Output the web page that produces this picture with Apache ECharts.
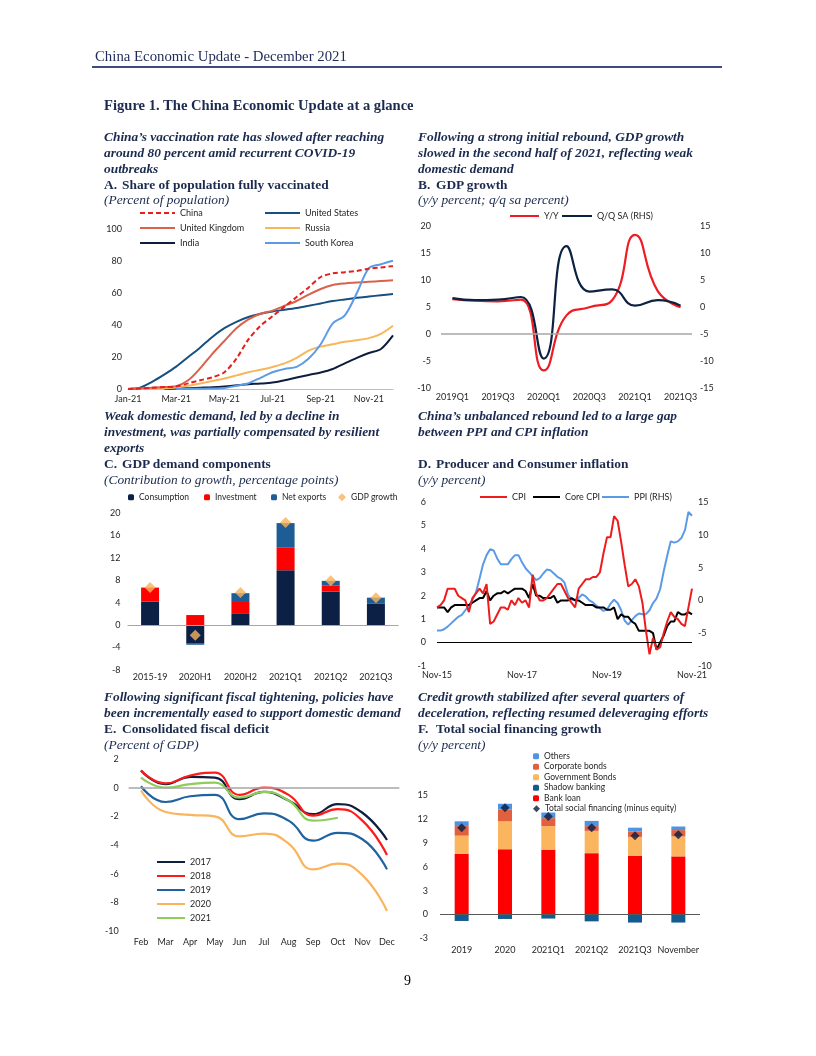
<!DOCTYPE html>
<html><head><meta charset="utf-8">
<script src="https://cdn.jsdelivr.net/npm/echarts@6/dist/echarts.min.js"></script>
<style>
body{margin:0;background:#fff;}
#page{position:relative;width:816px;height:1056px;overflow:hidden;background:#fff;}
#chart{position:absolute;left:0;top:0;width:816px;height:1056px;}
.t{position:absolute;white-space:nowrap;font-family:"Liberation Serif","Times New Roman",serif;color:#1B2A4E;line-height:16px;height:16px;}
.bi{font-weight:bold;font-style:italic;font-size:13.4px;}
.b{font-weight:bold;font-size:13.4px;}
.i{font-style:italic;font-size:13.4px;}
.hdr{font-size:14.8px;color:#1F2B57;}
.ttl{font-weight:bold;font-size:14.6px;}
.pg{font-size:14px;color:#000;}
#rule{position:absolute;left:92px;top:66px;width:630px;height:1.5px;background:#3D4C7C;}
</style></head>
<body>
<div id="page"><div id="chart"></div><div id="rule"></div></div>
<script>
// ---------- Chart A: vaccination (semi-monthly points, 2021) ----------
const vaxDates = ['Jan 1','Jan 15','Feb 1','Feb 15','Mar 1','Mar 15','Apr 1','Apr 15','May 1','May 15','Jun 1','Jun 15','Jul 1','Jul 15','Aug 1','Aug 15','Sep 1','Sep 15','Oct 1','Oct 15','Nov 1','Nov 15','Dec 1'];
const vaxChina  = [0,0.3,0.8,1.2,1.6,3.5,5.5,7.3,10.5,19,31,39.5,45.5,51.5,57.5,63.5,70,72.3,73,73.8,75.2,76,76.8];
const vaxUS     = [0,0.8,4.5,9,14,20,26,32.5,38,42,45,47,48.5,49.5,50.6,52,53.5,55,56,57,57.8,58.6,59.4];
const vaxUK     = [0,0.5,0.8,1.2,1.8,5.5,13,22,30,38,43.5,47,49,52,55,59,62.5,65,66,66.5,67,67.5,68];
const vaxRussia = [0,0.1,0.3,0.5,0.9,2,3.5,5,6.6,8.5,10.5,12,13.8,16,19.5,24,26.5,28,29.5,30.5,31.8,34.5,39.5];
const vaxIndia  = [null,null,null,0.1,0.3,0.5,0.8,1.1,1.6,2.3,3,3.4,4,5.5,7.2,8.8,10.3,12.5,16,19.5,22.5,25,33.5];
const vaxKorea  = [null,null,null,null,0,0.1,0.2,0.3,0.6,2,3.6,7,10.5,12.5,13.8,19,28,41,46,60,75.5,78,80.2];

// ---------- Chart B: GDP growth ----------
const gdpQuarters = ['2019Q1','2019Q2','2019Q3','2019Q4','2020Q1','2020Q2','2020Q3','2020Q4','2021Q1','2021Q2','2021Q3'];
const gdpYoY = [6.4,6.1,6.0,6.3,-6.8,3.4,4.9,6.2,18.3,7.9,4.9];
const gdpQoQ = [1.6,1.2,1.3,1.8,-9.6,11.2,2.8,3.2,0.2,1.2,0.2];

// ---------- Chart C: GDP demand components ----------
const compCats = ['2015-19','2020H1','2020H2','2021Q1','2021Q2','2021Q3'];
const compConsumption = [4.2,-3.2,2.0,9.8,6.0,3.8];
const compInvestment  = [2.5,1.8,2.3,4.0,1.1,0.0];
const compNetExports  = [0.0,-0.3,1.4,4.4,0.8,1.1];
const compGDP         = [6.7,-1.8,5.8,18.3,7.9,4.9];

// ---------- Chart D: inflation, Nov-15 .. Nov-21 ----------
const monNames = ['Jan','Feb','Mar','Apr','May','Jun','Jul','Aug','Sep','Oct','Nov','Dec'];
const inflMonths = [];
for (let i = 0; i < 73; i++) { const k = 10 + i; inflMonths.push(monNames[k % 12] + '-' + (15 + Math.floor(k / 12))); }
const cpi = [1.5,1.6,
 1.8,2.3,2.3,2.3,2.0,1.9,1.8,1.3,1.9,2.1,2.3,2.1,
 2.5,0.8,0.9,1.2,1.5,1.5,1.4,1.8,1.6,1.9,1.7,1.8,
 1.5,2.9,2.1,1.8,1.8,1.9,2.1,2.3,2.5,2.5,2.2,1.9,
 1.7,1.5,2.3,2.5,2.7,2.7,2.8,2.8,3.0,3.8,4.5,4.5,
 5.4,5.2,4.3,3.3,2.4,2.5,2.7,2.4,1.7,0.5,-0.5,0.2,
 -0.3,-0.2,0.4,0.9,1.3,1.1,1.0,0.8,0.7,1.5,2.3];
const coreCpi = [1.5,1.5,
 1.5,1.3,1.5,1.6,1.6,1.6,1.6,1.6,1.7,1.8,1.9,1.9,
 2.2,1.8,2.0,2.1,2.1,2.2,2.1,2.2,2.3,2.3,2.3,2.2,
 1.9,2.5,2.0,2.0,1.9,1.9,1.9,2.0,1.7,1.8,1.8,1.8,
 1.9,1.8,1.8,1.7,1.6,1.6,1.6,1.5,1.5,1.5,1.4,1.4,
 1.5,1.0,1.2,1.1,1.1,0.9,0.8,0.5,0.5,0.5,0.5,0.4,
 -0.3,0.0,0.3,0.7,0.9,0.9,1.3,1.2,1.2,1.3,1.2];
const ppi = [-4.6,-4.6,
 -4.4,-4.0,-3.5,-3.0,-2.5,-2.2,-1.5,-0.8,0.1,1.2,3.3,5.5,
 6.9,7.8,7.6,6.4,5.5,5.5,5.5,6.3,6.9,6.9,5.8,4.9,
 4.3,3.7,3.1,3.4,4.1,4.7,4.6,4.1,3.6,3.3,2.7,0.9,
 0.1,0.1,0.4,0.9,0.6,0.0,-0.3,-0.8,-1.2,-1.6,-1.4,-0.5,
 0.1,-0.4,-1.5,-3.1,-3.7,-3.0,-2.4,-2.0,-2.1,-2.1,-1.5,-0.4,
 0.3,1.7,4.4,6.8,9.0,8.8,9.0,9.5,10.7,13.5,12.9];

// ---------- Chart E: fiscal deficit ----------
const fiscMonths = ['Feb','Mar','Apr','May','Jun','Jul','Aug','Sep','Oct','Nov','Dec'];
const fisc2017 = [1.2,0.25,0.75,0.7,-0.8,-0.3,-0.9,-1.85,-1.15,-1.75,-3.65];
const fisc2018 = [1.2,0.3,0.85,1.05,-0.5,0.0,-0.5,-1.95,-1.5,-2.3,-4.7];
const fisc2019 = [0.1,-1.0,-0.6,-0.5,-2.2,-1.8,-2.3,-3.7,-3.15,-3.6,-5.7];
const fisc2020 = [-0.2,-1.7,-1.9,-2.0,-3.4,-3.2,-3.9,-5.7,-5.3,-6.1,-8.6];
const fisc2021 = [0.7,0.0,0.25,0.35,-0.7,-0.3,-0.9,-2.3,-2.1];

// ---------- Chart F: total social financing ----------
const tsfCats = ['2019','2020','2021Q1','2021Q2','2021Q3','November'];
const tsfBankLoan = [7.6,8.2,8.1,7.7,7.35,7.3];
const tsfShadow   = [-0.8,-0.55,-0.5,-0.85,-1.0,-1.0];
const tsfGovBonds = [2.3,3.5,3.0,2.8,2.4,2.5];
const tsfCorpBonds= [1.2,1.5,1.0,0.6,0.65,0.8];
const tsfOthers   = [0.6,0.7,0.7,0.65,0.5,0.45];
const tsfTotal    = [10.9,13.4,12.3,10.9,9.9,10.0];

// ---------- Text ----------
const texts = [
 [95,56,'hdr','China Economic Update - December 2021'],
 [104,105,'ttl','Figure 1. The China Economic Update at a glance'],
 [104,137,'bi','China\u2019s vaccination rate has slowed after reaching'],
 [104,153,'bi','around 80 percent amid recurrent COVID-19'],
 [104,169,'bi','outbreaks'],
 [104,185,'b','A.'],[122,185,'b','Share of population fully vaccinated'],
 [104,200,'i','(Percent of population)'],
 [418,137,'bi','Following a strong initial rebound, GDP growth'],
 [418,153,'bi','slowed in the second half of 2021, reflecting weak'],
 [418,169,'bi','domestic demand'],
 [418,185,'b','B.'],[436,185,'b','GDP growth'],
 [418,200,'i','(y/y percent; q/q sa percent)'],
 [104,416,'bi','Weak domestic demand, led by a decline in'],
 [104,432,'bi','investment, was partially compensated by resilient'],
 [104,448,'bi','exports'],
 [104,464,'b','C.'],[122,464,'b','GDP demand components'],
 [104,480,'i','(Contribution to growth, percentage points)'],
 [418,416,'bi','China\u2019s unbalanced rebound led to a large gap'],
 [418,432,'bi','between PPI and CPI inflation'],
 [418,464,'b','D.'],[436,464,'b','Producer and Consumer inflation'],
 [418,480,'i','(y/y percent)'],
 [104,697,'bi','Following significant fiscal tightening, policies have'],
 [104,713,'bi','been incrementally eased to support domestic demand'],
 [104,729,'b','E.'],[122,729,'b','Consolidated fiscal deficit'],
 [104,745,'i','(Percent of GDP)'],
 [418,697,'bi','Credit growth stabilized after several quarters of'],
 [418,713,'bi','deceleration, reflecting resumed deleveraging efforts'],
 [418,729,'b','F.'],[436,729,'b','Total social financing growth'],
 [418,745,'i','(y/y percent)'],
 [404,981,'pg','9']
];
const page = document.getElementById('page');
texts.forEach(([x, y, c, s]) => {
  const d = document.createElement('div');
  d.className = 't ' + c; d.style.left = x + 'px'; d.style.top = (y - 8) + 'px'; d.textContent = s;
  page.appendChild(d);
});

// ---------- ECharts ----------
const FONT = 'Lato';
const LBL = {fontFamily: FONT, fontSize: 9, color: '#262626'};
const C = {
  china:'#E4201E', us:'#17507E', uk:'#D9624B', russia:'#F6B75A', india:'#0E1C3E', korea:'#5C9BE6',
  yoy:'#EE1D23', qoq:'#0D2240',
  cons:'#0C1F45', inv:'#FF0000', nx:'#1E5C96', gdp:'#F8B35B',
  cpi:'#EE1C1C', core:'#000000', ppi:'#5B9BE6',
  y17:'#0E1E3F', y18:'#FF1A1A', y19:'#1F62A0', y20:'#F9B45C', y21:'#8FCC5A',
  others:'#4F93E3', corp:'#E0603F', gov:'#FBB55E', shadow:'#135B8F', bank:'#FF0000', tsf:'#0B1B3D'
};
const DASH_ICON = 'path://M0,0h5v2h-5zM8,0h5v2h-5zM16,0h5v2h-5zM24,0h5v2h-5zM32,0h3v2h-3z';
function lg(name, left, center, w, h, fs, icon) {
  const hh = Math.max(h, fs);
  const o = {left: left, top: center - hh / 2, padding: 0, itemGap: 0, itemWidth: w, itemHeight: h,
    data: [name], selectedMode: false, textStyle: {fontFamily: FONT, fontSize: fs, color: '#262626'}};
  if (icon) o.icon = icon;
  return o;
}
function lgLine(name, left, center, w, icon) { return lg(name, left, center, w, 2, 9, icon || 'rect'); }
function zeroLine(color, width) {
  return {silent: true, symbol: 'none', label: {show: false}, animation: false,
    lineStyle: {color: color, width: width, type: 'solid'}, data: [{yAxis: 0}]};
}
function line(name, data, color, xi, yi, extra) {
  return Object.assign({name: name, type: 'line', data: data, xAxisIndex: xi, yAxisIndex: yi,
    symbol: 'none', showSymbol: false, itemStyle: {color: color},
    lineStyle: {color: color, width: 2}}, extra || {});
}
function bar(name, data, color, xi, yi, stack, w) {
  return {name: name, type: 'bar', data: data, xAxisIndex: xi, yAxisIndex: yi, stack: stack,
    barWidth: w, itemStyle: {color: color}};
}
const noLine = {show: false};
const hidden = {show: false};

const option = {
  animation: false,
  textStyle: {fontFamily: FONT},
  grid: [
    {left: 128, top: 229, width: 265, height: 160, outerBoundsMode: 'none'},
    {left: 441, top: 225.7, width: 251, height: 162, outerBoundsMode: 'none'},
    {left: 127.5, top: 513, width: 271, height: 157, outerBoundsMode: 'none'},
    {left: 437, top: 502, width: 255, height: 164, outerBoundsMode: 'none'},
    {left: 128.7, top: 759, width: 270.6, height: 172, outerBoundsMode: 'none'},
    {left: 440, top: 795, width: 260, height: 143.5, outerBoundsMode: 'none'}
  ],
  xAxis: [
    {gridIndex: 0, type: 'category', data: vaxDates, boundaryGap: false,
      axisLine: {show: true, lineStyle: {color: '#BFBFBF', width: 1}}, axisTick: hidden, splitLine: hidden,
      axisLabel: Object.assign({interval: 3, margin: 6, formatter: v => v.split(' ')[0] + '-21'}, LBL)},
    {gridIndex: 1, type: 'category', data: gdpQuarters, boundaryGap: true,
      axisLine: noLine, axisTick: hidden, splitLine: hidden,
      axisLabel: Object.assign({interval: 1, margin: 5}, LBL)},
    {gridIndex: 2, type: 'category', data: compCats, boundaryGap: true,
      axisLine: noLine, axisTick: hidden, splitLine: hidden,
      axisLabel: Object.assign({interval: 0, margin: 3}, LBL)},
    {gridIndex: 3, type: 'category', data: inflMonths, boundaryGap: false,
      axisLine: noLine, axisTick: hidden, splitLine: hidden,
      axisLabel: Object.assign({interval: 23, margin: 5}, LBL)},
    {gridIndex: 4, type: 'category', data: fiscMonths, boundaryGap: true,
      axisLine: noLine, axisTick: hidden, splitLine: hidden,
      axisLabel: Object.assign({interval: 0, margin: 7}, LBL)},
    {gridIndex: 5, type: 'category', data: tsfCats, boundaryGap: true,
      axisLine: noLine, axisTick: hidden, splitLine: hidden,
      axisLabel: Object.assign({interval: 0, margin: 7}, LBL)}
  ],
  yAxis: [
    {gridIndex: 0, type: 'value', min: 0, max: 100, interval: 20, axisLine: noLine, axisTick: hidden, splitLine: hidden, axisLabel: Object.assign({margin: 6}, LBL)},
    {gridIndex: 1, type: 'value', min: -10, max: 20, interval: 5, axisLine: noLine, axisTick: hidden, splitLine: hidden, axisLabel: Object.assign({margin: 10}, LBL)},
    {gridIndex: 1, type: 'value', position: 'right', min: -15, max: 15, interval: 5, axisLine: noLine, axisTick: hidden, splitLine: hidden, axisLabel: Object.assign({margin: 8}, LBL)},
    {gridIndex: 2, type: 'value', min: -8, max: 20, interval: 4, axisLine: noLine, axisTick: hidden, splitLine: hidden, axisLabel: Object.assign({margin: 7}, LBL)},
    {gridIndex: 3, type: 'value', min: -1, max: 6, interval: 1, axisLine: noLine, axisTick: hidden, splitLine: hidden, axisLabel: Object.assign({margin: 11}, LBL)},
    {gridIndex: 3, type: 'value', position: 'right', min: -10, max: 15, interval: 5, axisLine: noLine, axisTick: hidden, splitLine: hidden, axisLabel: Object.assign({margin: 6}, LBL)},
    {gridIndex: 4, type: 'value', min: -10, max: 2, interval: 2, axisLine: noLine, axisTick: hidden, splitLine: hidden, axisLabel: Object.assign({margin: 10}, LBL)},
    {gridIndex: 5, type: 'value', min: -3, max: 15, interval: 3, axisLine: noLine, axisTick: hidden, splitLine: hidden, axisLabel: Object.assign({margin: 12}, LBL)}
  ],
  legend: [
    lgLine('China', 140, 213, 35, DASH_ICON), lgLine('United Kingdom', 140, 228, 35), lgLine('India', 140, 243, 35),
    lgLine('United States', 265, 213, 35), lgLine('Russia', 265, 228, 35), lgLine('South Korea', 265, 243, 35),
    lgLine('Y/Y', 510, 216, 29), lgLine('Q/Q SA (RHS)', 562, 216, 30),
    lg('Consumption', 128, 497, 6, 6, 8.5), lg('Investment', 204, 497, 6, 6, 8.5),
    lg('Net exports', 271, 497, 6, 6, 8.5), lg('GDP growth', 338, 497, 8, 8, 8.5),
    lgLine('CPI', 480, 497, 27), lgLine('Core CPI', 533, 497, 27), lgLine('PPI (RHS)', 602, 497, 27),
    lgLine('2017', 157, 862, 28), lgLine('2018', 157, 876, 28), lgLine('2019', 157, 890, 28),
    lgLine('2020', 157, 904, 28), lgLine('2021', 157, 918, 28),
    lg('Others', 533, 756, 6, 6, 8.5), lg('Corporate bonds', 533, 766.5, 6, 6, 8.5),
    lg('Government Bonds', 533, 777, 6, 6, 8.5), lg('Shadow banking', 533, 787.5, 6, 6, 8.5),
    lg('Bank loan', 533, 798, 6, 6, 8.5), lg('Total social financing (minus equity)', 533, 808.5, 7, 7, 8.5)
  ],
  series: [
    // A
    line('India', vaxIndia, C.india, 0, 0, {smooth: 0.3}),
    line('Russia', vaxRussia, C.russia, 0, 0, {smooth: 0.3}),
    line('United States', vaxUS, C.us, 0, 0, {smooth: 0.3}),
    line('United Kingdom', vaxUK, C.uk, 0, 0, {smooth: 0.3}),
    line('South Korea', vaxKorea, C.korea, 0, 0, {smooth: 0.3}),
    line('China', vaxChina, C.china, 0, 0, {smooth: 0.3, lineStyle: {color: C.china, width: 2, type: [5, 3]}}),
    // B
    line('Y/Y', gdpYoY, C.yoy, 1, 1, {smooth: true, lineStyle: {color: C.yoy, width: 2.2}, markLine: zeroLine('#A6A6A6', 1.5)}),
    line('Q/Q SA (RHS)', gdpQoQ, C.qoq, 1, 2, {smooth: true, lineStyle: {color: C.qoq, width: 2.2}}),
    // C
    Object.assign(bar('Consumption', compConsumption, C.cons, 2, 3, 'C', 18), {markLine: zeroLine('#A6A6A6', 1.2)}),
    bar('Investment', compInvestment, C.inv, 2, 3, 'C', 18),
    bar('Net exports', compNetExports, C.nx, 2, 3, 'C', 18),
    {name: 'GDP growth', type: 'scatter', data: compGDP, xAxisIndex: 2, yAxisIndex: 3, symbol: 'diamond', symbolSize: 11, itemStyle: {color: C.gdp}, z: 5},
    // D
    line('PPI (RHS)', ppi, C.ppi, 3, 5, {lineStyle: {color: C.ppi, width: 2}}),
    line('Core CPI', coreCpi, C.core, 3, 4, {lineStyle: {color: C.core, width: 2}}),
    line('CPI', cpi, C.cpi, 3, 4, {lineStyle: {color: C.cpi, width: 2}, markLine: zeroLine('#000000', 1)}),
    // E
    line('2020', fisc2020, C.y20, 4, 6, {smooth: true, lineStyle: {color: C.y20, width: 2.2}, markLine: zeroLine('#A6A6A6', 1.5)}),
    line('2019', fisc2019, C.y19, 4, 6, {smooth: true, lineStyle: {color: C.y19, width: 2.2}}),
    line('2017', fisc2017, C.y17, 4, 6, {smooth: true, lineStyle: {color: C.y17, width: 2.2}}),
    line('2018', fisc2018, C.y18, 4, 6, {smooth: true, lineStyle: {color: C.y18, width: 2.2}}),
    line('2021', fisc2021, C.y21, 4, 6, {smooth: true, lineStyle: {color: C.y21, width: 2.2}}),
    // F
    Object.assign(bar('Bank loan', tsfBankLoan, C.bank, 5, 7, 'F', 14), {markLine: zeroLine('#595959', 1)}),
    bar('Shadow banking', tsfShadow, C.shadow, 5, 7, 'F', 14),
    bar('Government Bonds', tsfGovBonds, C.gov, 5, 7, 'F', 14),
    bar('Corporate bonds', tsfCorpBonds, C.corp, 5, 7, 'F', 14),
    bar('Others', tsfOthers, C.others, 5, 7, 'F', 14),
    {name: 'Total social financing (minus equity)', type: 'scatter', data: tsfTotal, xAxisIndex: 5, yAxisIndex: 7, symbol: 'diamond', symbolSize: 9, itemStyle: {color: C.tsf}, z: 5}
  ]
};
const chart = echarts.init(document.getElementById('chart'));
chart.setOption(option);
</script>
</body></html>
